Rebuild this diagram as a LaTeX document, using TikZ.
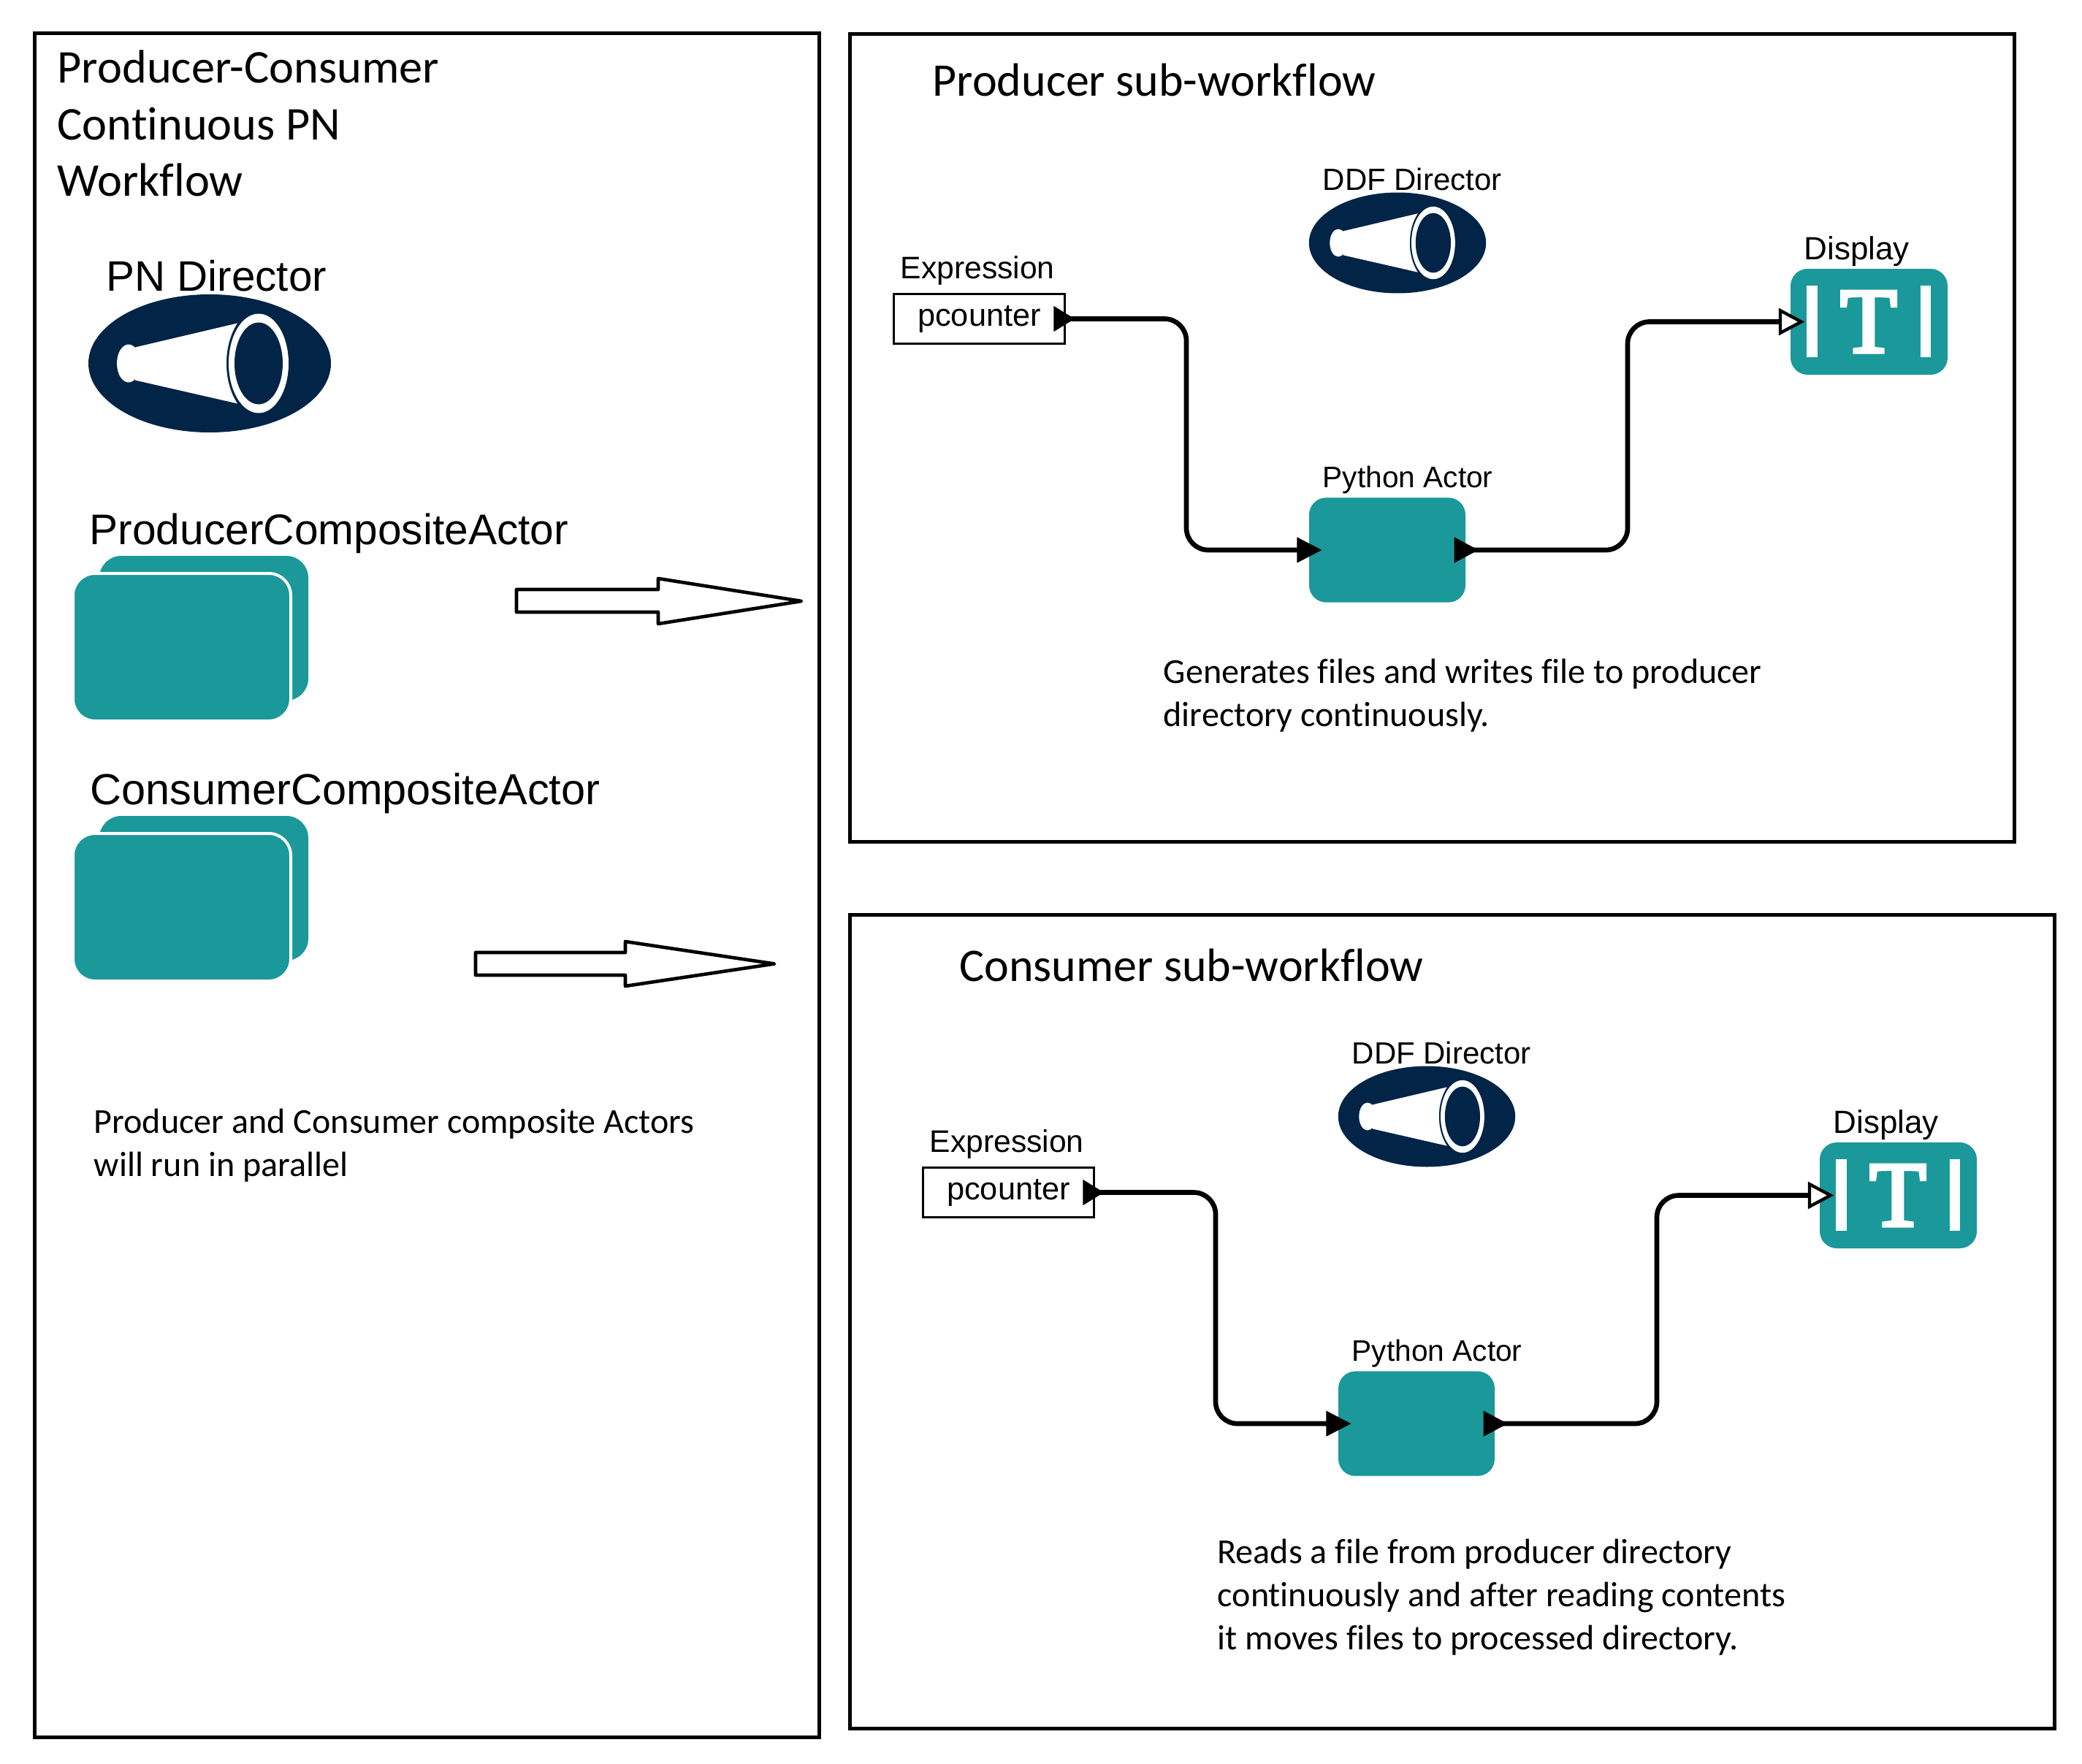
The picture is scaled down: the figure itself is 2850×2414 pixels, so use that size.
\documentclass[tikz,border=0pt]{standalone}
\usepackage{fontspec}
\setmainfont{Liberation Sans}
\newfontfamily\carlito{Carlito}[Ligatures={NoCommon}]
\newfontfamily\tms{Liberation Serif}[FakeBold=4]
\definecolor{teal}{RGB}{27,152,154}
\definecolor{navy}{RGB}{2,36,70}
\tikzset{
  frame/.style={draw=black,line width=1.5pt,fill=none,inner sep=0pt},
  titletext/.style={anchor=base west,inner sep=0pt,font=\carlito\fontsize{19.3pt}{22pt}\selectfont},
  subtitletext/.style={anchor=base west,inner sep=0pt,font=\carlito\fontsize{19.2pt}{22pt}\selectfont},
  bodytext/.style={anchor=base west,inner sep=0pt,font=\carlito\fontsize{14.43pt}{17pt}\selectfont},
  biglabel/.style={anchor=base west,inner sep=0pt,font=\fontsize{17.5pt}{20pt}\selectfont},
  smalllabel/.style={anchor=base west,inner sep=0pt,font=\fontsize{12.8pt}{16pt}\selectfont},
  actorbox/.style={fill=teal,rounded corners=7pt,inner sep=0pt,minimum width=64.2pt,minimum height=43pt},
  displaybox/.style={fill=teal,rounded corners=7pt,inner sep=0pt,minimum width=64.5pt,minimum height=43.5pt},
  exprbox/.style={draw=black,line width=0.9pt,fill=white,inner sep=0pt,minimum width=70.2pt,minimum height=20.6pt,font=\fontsize{13pt}{16pt}\selectfont},
  wire/.style={draw=black,line width=2pt,rounded corners=9pt},
  blockarrow/.style={draw=black,line width=1.4pt,fill=white,line join=round},
  backcard/.style={fill=teal,rounded corners=9pt},
  frontcard/.style={fill=teal,draw=white,line width=1.2pt,rounded corners=9pt},
}
\newcommand{\drawdirector}[3]{%
  \begin{scope}[shift={(#1,#2)},scale=#3]
    \fill[navy] (0,0) ellipse [x radius=166,y radius=94.5];
    \fill[white] (-111,0) ellipse [x radius=16,y radius=26];
    \fill[white] (-102,-22) -- (38,-55) .. controls (18,-25) and (18,25) .. (38,55) -- (-102,23) -- cycle;
    \fill[white] (67,0) ellipse [x radius=41,y radius=68];
    \fill[navy] (67,0) ellipse [x radius=33,y radius=56];
  \end{scope}}
\newcommand{\drawcards}[1]{%
  \begin{scope}[shift={(0,#1)}]
    \path[backcard] (136,761) rectangle (422,959);
    \path[frontcard] (100,785) rectangle (398,987);
  \end{scope}}
\newcommand{\subflow}[3]{%
  \begin{scope}[shift={(#2,#3)}]
    \node[smalllabel] (#1exprlabel) at (1232,381) {Expression};
    \node[exprbox] (#1expr) at (1340.5,436.5) {pcounter};
    \node[smalllabel,font=\fontsize{12.2pt}{16pt}\selectfont] (#1pylabel) at (1810,667) {Python Actor};
    \node[actorbox] (#1actor) at (1899,753) {};
    \node[smalllabel,font=\fontsize{13.2pt}{16pt}\selectfont] (#1displabel) at (2469,355) {Display};
    \node[displaybox] (#1disp) at (2558.5,440.5) {};
    \fill[white] (2473,391) rectangle (2488,489);
    \fill[white] (2629,391) rectangle (2643,489);
    \node[anchor=base,inner sep=0pt,text=white,font=\tms\fontsize{38pt}{40pt}\selectfont] (#1t) at (2558,482) {T};
    \coordinate (#1v) at (1624,0);
    \coordinate (#1w) at (2228,0);
    \path[wire] (#1expr.east) -- (#1v |- #1expr.east) -- (#1v |- #1actor.west) -- (#1actor.west);
    \path[wire] (#1actor.east) -- (#1w |- #1actor.east) -- (#1w |- #1disp.west) -- ([xshift=-4pt]#1disp.west);
    \fill[black] ([shift={(-5pt,5.3pt)}]#1expr.east) -- ([shift={(3.6pt,0pt)}]#1expr.east) -- ([shift={(-5pt,-5.3pt)}]#1expr.east) -- cycle;
    \fill[black] ([shift={(-4.8pt,5.3pt)}]#1actor.west) -- ([shift={(5.4pt,0pt)}]#1actor.west) -- ([shift={(-4.8pt,-5.3pt)}]#1actor.west) -- cycle;
    \fill[black] ([shift={(-4.8pt,5.3pt)}]#1actor.east) -- ([shift={(5.1pt,0pt)}]#1actor.east) -- ([shift={(-4.8pt,-5.3pt)}]#1actor.east) -- cycle;
    \draw[black,line width=1.3pt,fill=white,line join=miter] ([shift={(-4pt,4.6pt)}]#1disp.west) -- ([shift={(4.6pt,0pt)}]#1disp.west) -- ([shift={(-4pt,-4.6pt)}]#1disp.west) -- cycle;
  \end{scope}}
\begin{document}
\begin{tikzpicture}[x=0.3pt,y=-0.3pt]
\useasboundingbox (0,0) rectangle (2850,2414);
% frames
\node[frame,minimum width=322.2pt,minimum height=700pt] (leftframe) at (584,1212) {};
\node[frame,minimum width=478.2pt,minimum height=331.5pt] (prodframe) at (1960,599.5) {};
\node[frame,minimum width=494.7pt,minimum height=334.2pt] (consframe) at (1987.5,1809) {};
% left panel
\node[titletext] (t1) at (78,114) {Producer-Consumer};
\node[titletext] (t2) at (78,192) {Continuous PN};
\node[titletext] (t3) at (78,269) {Workflow};
\node[biglabel] (pnlabel) at (145,398) {PN Director};
\drawdirector{287}{497.5}{1}
\node[biglabel,font=\fontsize{17.6pt}{20pt}\selectfont] (pca) at (122,745) {ProducerCompositeActor};
\drawcards{0}
\node[biglabel,font=\fontsize{17.85pt}{20pt}\selectfont] (cca) at (123,1101) {ConsumerCompositeActor};
\drawcards{356}
\draw[blockarrow] (707,807) -- (901,807) -- (901,792) -- (1097,823) -- (901,854) -- (901,838) -- (707,838) -- cycle;
\draw[blockarrow] (651,1304) -- (856,1304) -- (856,1289) -- (1060,1319.5) -- (856,1350) -- (856,1335) -- (651,1335) -- cycle;
\node[bodytext] (par1) at (128,1551) {Producer and Consumer composite Actors};
\node[bodytext] (par2) at (128,1610) {will run in parallel};
% producer
\node[subtitletext] (ptitle) at (1276,132) {Producer sub-workflow};
\node[smalllabel,font=\fontsize{12.6pt}{16pt}\selectfont] (pddf) at (1810,261) {DDF Director};
\drawdirector{1913}{332.5}{0.73}
\subflow{p}{0}{0}
\node[bodytext] (pt1) at (1592,935) {Generates files and writes file to producer};
\node[bodytext] (pt2) at (1592,994) {directory continuously.};
% consumer
\node[subtitletext] (ctitle) at (1312.5,1343) {Consumer sub-workflow};
\node[smalllabel,font=\fontsize{12.6pt}{16pt}\selectfont] (cddf) at (1850,1456) {DDF Director};
\drawdirector{1953}{1528.5}{0.73}
\subflow{c}{40}{1196}
\node[bodytext] (ct1) at (1666,2140) {Reads a file from producer directory};
\node[bodytext] (ct2) at (1666,2199) {continuously and after reading contents};
\node[bodytext] (ct3) at (1666,2258.5) {it moves files to processed directory.};
\end{tikzpicture}
\end{document}
